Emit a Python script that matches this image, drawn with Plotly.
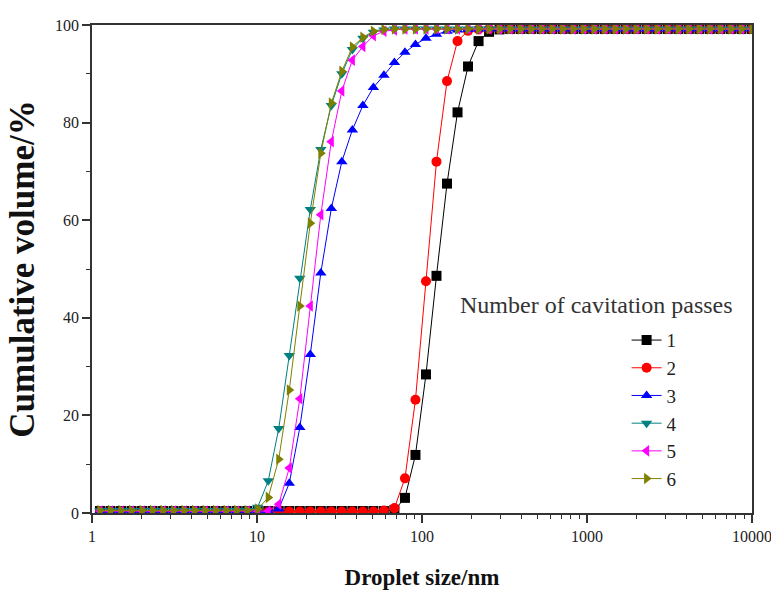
import plotly.graph_objects as go

# Droplet size bins (nm)
size_nm = [1.117, 1.294, 1.499, 1.736, 2.010, 2.328, 2.696, 3.122, 3.615, 4.187,
           4.849, 5.615, 6.503, 7.531, 8.721, 10.10, 11.70, 13.54, 15.69, 18.17,
           21.04, 24.36, 28.21, 32.67, 37.84, 43.82, 50.75, 58.77, 68.06, 78.82,
           91.28, 105.7, 122.4, 141.8, 164.2, 190.1, 220.2, 255.0, 295.3, 342.0,
           396.1, 458.7, 531.2, 615.1, 712.4, 825.0, 955.4, 1106, 1281, 1484,
           1718, 1990, 2305, 2669, 3091, 3580, 4145, 4801, 5560, 6439,
           7456, 8635, 10000]

# Cumulative volume (%) per number of cavitation passes
cum_1 = [0.4, 0.4, 0.4, 0.4, 0.4, 0.4, 0.4, 0.4, 0.4, 0.4,
         0.4, 0.4, 0.4, 0.4, 0.4, 0.4, 0.4, 0.4, 0.4, 0.4,
         0.4, 0.4, 0.4, 0.4, 0.4, 0.4, 0.4, 0.4, 0.6, 3.1,
         11.9, 28.4, 48.6, 67.5, 82.1, 91.5, 96.7, 98.6, 99.1, 99.2,
         99.2, 99.2, 99.2, 99.2, 99.2, 99.2, 99.2, 99.2, 99.2, 99.2,
         99.2, 99.2, 99.2, 99.2, 99.2, 99.2, 99.2, 99.2, 99.2, 99.2,
         99.2, 99.2, 99.2]
cum_2 = [0.3, 0.3, 0.3, 0.3, 0.3, 0.3, 0.3, 0.3, 0.3, 0.3,
         0.3, 0.3, 0.3, 0.3, 0.3, 0.3, 0.3, 0.3, 0.3, 0.3,
         0.3, 0.3, 0.3, 0.3, 0.3, 0.3, 0.3, 0.5, 1.0, 7.1,
         23.2, 47.5, 72.0, 88.5, 96.7, 98.8, 99.1, 99.2, 99.2, 99.2,
         99.2, 99.2, 99.2, 99.2, 99.2, 99.2, 99.2, 99.2, 99.2, 99.2,
         99.2, 99.2, 99.2, 99.2, 99.2, 99.2, 99.2, 99.2, 99.2, 99.2,
         99.2, 99.2, 99.2]
cum_3 = [0.4, 0.4, 0.4, 0.4, 0.4, 0.4, 0.4, 0.4, 0.4, 0.4,
         0.4, 0.4, 0.4, 0.4, 0.4, 0.4, 0.4, 0.8, 6.1, 17.5,
         32.5, 49.2, 62.4, 72.0, 78.5, 83.5, 87.2, 89.7, 92.3, 94.4,
         96.0, 97.3, 98.1, 98.7, 99.0, 99.1, 99.2, 99.2, 99.2, 99.2,
         99.2, 99.2, 99.2, 99.2, 99.2, 99.2, 99.2, 99.2, 99.2, 99.2,
         99.2, 99.2, 99.2, 99.2, 99.2, 99.2, 99.2, 99.2, 99.2, 99.2,
         99.2, 99.2, 99.2]
cum_4 = [0.5, 0.5, 0.5, 0.5, 0.5, 0.5, 0.5, 0.5, 0.5, 0.5,
         0.5, 0.5, 0.5, 0.5, 0.5, 1.2, 6.6, 17.3, 32.3, 48.1,
         62.2, 74.5, 83.5, 90.0, 95.0, 97.3, 98.5, 99.0, 99.2, 99.2,
         99.2, 99.2, 99.2, 99.2, 99.2, 99.2, 99.2, 99.2, 99.2, 99.2,
         99.2, 99.2, 99.2, 99.2, 99.2, 99.2, 99.2, 99.2, 99.2, 99.2,
         99.2, 99.2, 99.2, 99.2, 99.2, 99.2, 99.2, 99.2, 99.2, 99.2,
         99.2, 99.2, 99.2]
cum_5 = [0.4, 0.4, 0.4, 0.4, 0.4, 0.4, 0.4, 0.4, 0.4, 0.4,
         0.4, 0.4, 0.4, 0.4, 0.4, 0.4, 0.4, 1.8, 9.2, 23.4,
         42.4, 61.1, 76.1, 86.5, 92.8, 95.6, 97.8, 98.7, 99.0, 99.2,
         99.2, 99.2, 99.2, 99.2, 99.2, 99.2, 99.2, 99.2, 99.2, 99.2,
         99.2, 99.2, 99.2, 99.2, 99.2, 99.2, 99.2, 99.2, 99.2, 99.2,
         99.2, 99.2, 99.2, 99.2, 99.2, 99.2, 99.2, 99.2, 99.2, 99.2,
         99.2, 99.2, 99.2]
cum_6 = [0.5, 0.5, 0.5, 0.5, 0.5, 0.5, 0.5, 0.5, 0.5, 0.5,
         0.5, 0.5, 0.5, 0.5, 0.5, 0.8, 3.2, 11.0, 25.2, 42.4,
         59.4, 73.7, 84.0, 90.5, 95.5, 97.5, 98.7, 99.1, 99.2, 99.2,
         99.2, 99.2, 99.2, 99.2, 99.2, 99.2, 99.2, 99.2, 99.2, 99.2,
         99.2, 99.2, 99.2, 99.2, 99.2, 99.2, 99.2, 99.2, 99.2, 99.2,
         99.2, 99.2, 99.2, 99.2, 99.2, 99.2, 99.2, 99.2, 99.2, 99.2,
         99.2, 99.2, 99.2]

series_names = ["1", "2", "3", "4", "5", "6"]
series_values = [cum_1, cum_2, cum_3, cum_4, cum_5, cum_6]
colors = ["#000000", "#ff0000", "#0000ff", "#008080", "#ff00ff", "#808000"]
symbols = ["square", "circle", "triangle-up", "triangle-down", "triangle-left", "triangle-right"]

x_tick_vals = [1, 10, 100, 1000, 10000]
x_tick_text = ["1", "10", "100", "1000", "10000"]

FONT = "Liberation Serif"

fig = go.Figure()
for name, vals, col, sym in zip(series_names, series_values, colors, symbols):
    fig.add_trace(go.Scatter(
        x=size_nm, y=vals, name=name, mode="lines+markers",
        line=dict(color=col, width=1),
        marker=dict(symbol=sym, size=10, color=col, line=dict(width=0)),
        cliponaxis=True,
    ))

axis_common = dict(
    showline=True, linecolor="#333333", linewidth=1.5, mirror=True,
    showgrid=False, zeroline=False,
    ticks="outside", ticklen=8, tickwidth=1.5, tickcolor="#333333",
    tickfont=dict(family=FONT, size=16, color="#222222"),
    automargin=False, ticklabeloverflow="allow",
)

fig.update_layout(
    width=771, height=590,
    margin=dict(l=92, r=19, t=25, b=77),
    paper_bgcolor="white", plot_bgcolor="white",
    font=dict(family=FONT, color="#222222"),
    xaxis=dict(
        type="log", range=[-0.0002, 4.0002],
        tickmode="array", tickvals=x_tick_vals, ticktext=x_tick_text,
        minor=dict(ticks="outside", ticklen=4, tickwidth=1.2, tickcolor="#333333", dtick="D1", showgrid=False),
        title=dict(text="<b>Droplet size/nm</b>", font=dict(family=FONT, size=23, color="#111111"), standoff=26),
        **axis_common,
    ),
    yaxis=dict(
        range=[0, 100], dtick=20, tick0=0,
        minor=dict(ticks="outside", ticklen=4, tickwidth=1.2, tickcolor="#333333", dtick=10, showgrid=False),
        title=dict(text="<b>Cumulative volume/%</b>", font=dict(family=FONT, size=35, color="#111111"), standoff=10),
        **axis_common,
    ),
    legend=dict(
        x=0.81, y=0.393, xanchor="left", yanchor="top",
        font=dict(family=FONT, size=19, color="#222222"),
        bgcolor="rgba(0,0,0,0)", tracegroupgap=0,
    ),
    showlegend=True,
    annotations=[dict(
        text="Number of cavitation passes", xref="paper", yref="paper",
        x=0.765, y=0.426, xanchor="center", yanchor="middle", showarrow=False,
        font=dict(family=FONT, size=24, color="#333333"),
    )],
)

fig.write_html("out.html")
